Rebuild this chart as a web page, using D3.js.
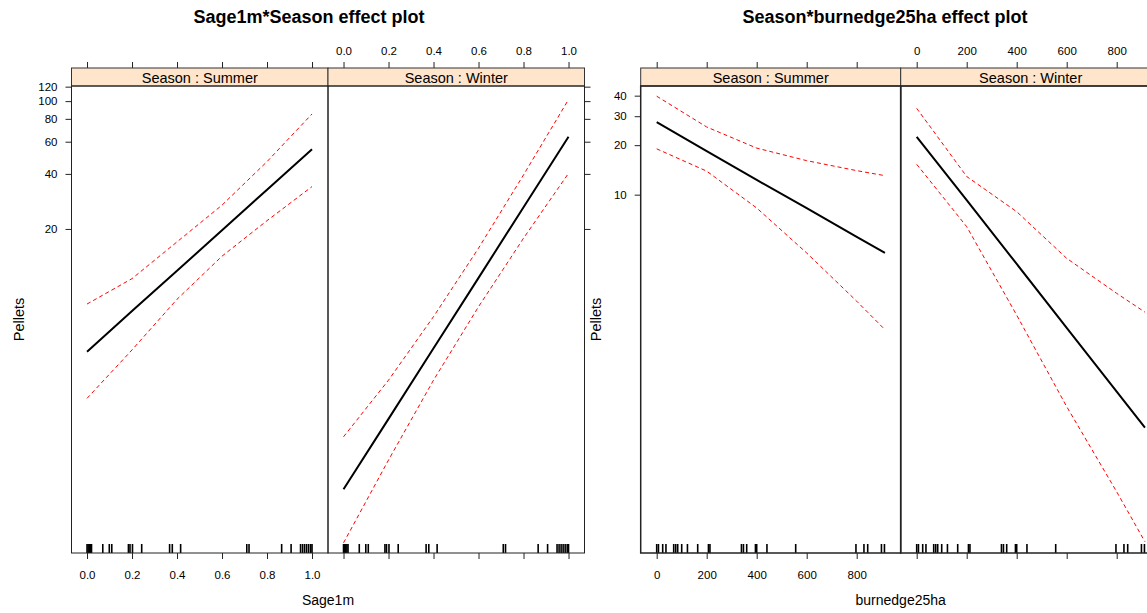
<!DOCTYPE html>
<html>
<head>
<meta charset="utf-8">
<script src="https://cdn.jsdelivr.net/npm/d3@7"></script>
<style>
  body { margin: 0; background: #fff; }
  svg { display: block; font-family: "Liberation Sans", Arial, sans-serif; }
</style>
</head>
<body>
<div id="chart"></div>
<script>
// ---- data ----
const seasons = ["Summer", "Winter"];

// Sage1m effect (log scale for Pellets)
const sageX = [0, 0.2, 0.4, 0.6, 0.8, 1.0];
const sageSummerFit   = [4.26, 7.11, 11.8, 19.7, 32.8, 54.6];
const sageSummerUpper = [7.77, 10.7, 17.0, 27.0, 46.7, 85.1];
const sageSummerLower = [2.37, 4.36, 8.25, 14.2, 22.2, 34.1];
const sageWinterFit   = [0.754, 1.83, 4.45, 10.8, 26.3, 63.9];
const sageWinterUpper = [1.46, 2.98, 6.63, 15.7, 39.5, 102];
const sageWinterLower = [0.384, 1.09, 2.98, 7.51, 17.8, 40.3];
const sageRug = [0, 0.005, 0.01, 0.015, 0.02, 0.07, 0.099, 0.11, 0.184, 0.191, 0.202, 0.243,
                 0.367, 0.379, 0.416, 0.71, 0.72, 0.865, 0.907, 0.949, 0.958, 0.967, 0.976,
                 0.985, 0.994, 1.0];
const sageTicks = [0, 0.2, 0.4, 0.6, 0.8, 1.0];
const sagePelletTicks = [20, 40, 60, 80, 100, 120];

// burnedge25ha effect
const burnX = [0, 200, 400, 600, 800, 913];
const burnSummerFit   = [27.6, 18.4, 12.3, 8.27, 5.53, 4.42];
const burnSummerUpper = [39.7, 25.8, 19.2, 16.1, 14.0, 13.05];
const burnSummerLower = [19.0, 13.9, 8.3, 4.42, 2.25, 1.51];
const burnWinterFit   = [22.5, 9.25, 3.79, 1.55, 0.634, 0.383];
const burnWinterUpper = [33.5, 12.9, 7.88, 4.10, 2.51, 1.93];
const burnWinterLower = [15.3, 6.39, 1.85, 0.514, 0.156, 0.0775];
const burnRug = [0, 7, 24, 37, 68, 76, 84, 100, 123, 164, 207, 213, 339, 347, 360, 395, 400,
                 441, 556, 797, 829, 844, 899, 911];
const burnTicks = [0, 200, 400, 600, 800];
const burnPelletTicks = [10, 20, 30, 40];

const width = 1147, height = 613;
const svg = d3.select("#chart").append("svg")
    .attr("width", width)
    .attr("height", height);

const panelTop = 86, panelBottom = 553, stripH = 18;

function effectPlot(opt) {
    const g = svg.append("g");
    const w = opt.panelWidth;
    const y = d3.scaleLog().domain(opt.yDomain).range([panelBottom, panelTop]);

    // title
    g.append("text")
        .attr("x", opt.titleX).attr("y", 23)
        .attr("text-anchor", "middle")
        .style("font-size", "18px").style("font-weight", "bold")
        .text(opt.title);

    opt.panels.forEach((p, i) => {
        const x0 = opt.left + i * w;
        const x = d3.scaleLinear().domain(opt.xDomain).range([x0, x0 + w]);

        // top axis (labels only on second panel)
        g.append("g")
            .attr("transform", `translate(0,${panelTop - stripH})`)
            .call(d3.axisTop(x).tickValues(opt.xTicks).tickSize(6).tickPadding(7)
                .tickFormat(i === 1 ? opt.xFormat : () => ""))
            .call(ax => ax.select(".domain").remove());

        // bottom axis (labels only on first panel)
        g.append("g")
            .attr("transform", `translate(0,${panelBottom})`)
            .call(d3.axisBottom(x).tickValues(opt.xTicks).tickSize(6).tickPadding(12)
                .tickFormat(i === 0 ? opt.xFormat : () => ""))
            .call(ax => ax.select(".domain").remove());

        // strip
        g.append("rect")
            .attr("x", x0).attr("y", panelTop - stripH)
            .attr("width", w).attr("height", stripH)
            .attr("fill", "#ffe5cc").attr("stroke", "#333").attr("stroke-width", 1);
        g.append("text")
            .attr("x", x0 + w / 2).attr("y", panelTop - 3.5)
            .attr("text-anchor", "middle")
            .style("font-size", "14.5px")
            .text("Season : " + p.season);

        // bands and fit
        const pts = arr => opt.xs.map((v, k) => [v, arr[k]]);
        const line = d3.line().x(d => x(d[0])).y(d => y(d[1]));
        [p.upper, p.lower].forEach(band => {
            g.append("path")
                .attr("d", line(pts(band)))
                .attr("fill", "none").attr("stroke", "#ff0000")
                .attr("stroke-width", 1).attr("stroke-dasharray", "4,3");
        });
        g.append("path")
            .attr("d", line(pts(p.fit)))
            .attr("fill", "none").attr("stroke", "#000")
            .attr("stroke-width", 2);

        // rug
        g.selectAll(null)
            .data(opt.rug)
            .enter().append("line")
            .attr("x1", d => x(d)).attr("x2", d => x(d))
            .attr("y1", panelBottom).attr("y2", panelBottom - 9)
            .attr("stroke", "#000").attr("stroke-width", 1.6);

        // panel frame
        g.append("rect")
            .attr("x", x0).attr("y", panelTop)
            .attr("width", w).attr("height", panelBottom - panelTop)
            .attr("fill", "none").attr("stroke", "#222").attr("stroke-width", opt.frameWidth);
    });

    // y axes: labels left, ticks only right
    const left = opt.left, right = opt.left + 2 * w;
    g.append("g")
        .attr("transform", `translate(${left},0)`)
        .call(d3.axisLeft(y).tickValues(opt.yTicks).tickSize(6).tickPadding(8)
            .tickFormat(d3.format("d")))
        .call(ax => ax.select(".domain").remove());
    g.append("g")
        .attr("transform", `translate(${right},0)`)
        .call(d3.axisRight(y).tickValues(opt.yTicks).tickSize(6).tickFormat(() => ""))
        .call(ax => ax.select(".domain").remove());

    g.selectAll(".tick text")
        .style("font-size", "11.5px")
        .style("font-family", "'Liberation Sans', Arial, sans-serif")
        .attr("fill", "#000");
    g.selectAll(".tick line").attr("stroke", "#222");

    // axis titles
    g.append("text")
        .attr("x", left + w).attr("y", 605)
        .attr("text-anchor", "middle")
        .style("font-size", "14px")
        .text(opt.xLabel);
    g.append("text")
        .attr("transform", `translate(${opt.yLabelX},${(panelTop + panelBottom) / 2}) rotate(-90)`)
        .attr("text-anchor", "middle")
        .style("font-size", "14.5px")
        .text("Pellets");
}

effectPlot({
    title: "Sage1m*Season effect plot",
    titleX: 309,
    left: 71.5,
    panelWidth: 256.5,
    frameWidth: 1,
    xDomain: [-0.069, 1.071],
    yDomain: [0.338, 121],
    xs: sageX,
    xTicks: sageTicks,
    xFormat: d3.format(".1f"),
    yTicks: sagePelletTicks,
    rug: sageRug,
    xLabel: "Sage1m",
    yLabelX: 24,
    panels: [
        {season: seasons[0], fit: sageSummerFit, upper: sageSummerUpper, lower: sageSummerLower},
        {season: seasons[1], fit: sageWinterFit, upper: sageWinterUpper, lower: sageWinterLower}
    ]
});

effectPlot({
    title: "Season*burnedge25ha effect plot",
    titleX: 885,
    left: 640.7,
    panelWidth: 260,
    frameWidth: 1.5,
    xDomain: [-64, 976],
    yDomain: [0.0662, 45.8],
    xs: burnX,
    xTicks: burnTicks,
    xFormat: d3.format("d"),
    yTicks: burnPelletTicks,
    rug: burnRug,
    xLabel: "burnedge25ha",
    yLabelX: 601,
    panels: [
        {season: seasons[0], fit: burnSummerFit, upper: burnSummerUpper, lower: burnSummerLower},
        {season: seasons[1], fit: burnWinterFit, upper: burnWinterUpper, lower: burnWinterLower}
    ]
});
</script>
</body>
</html>
